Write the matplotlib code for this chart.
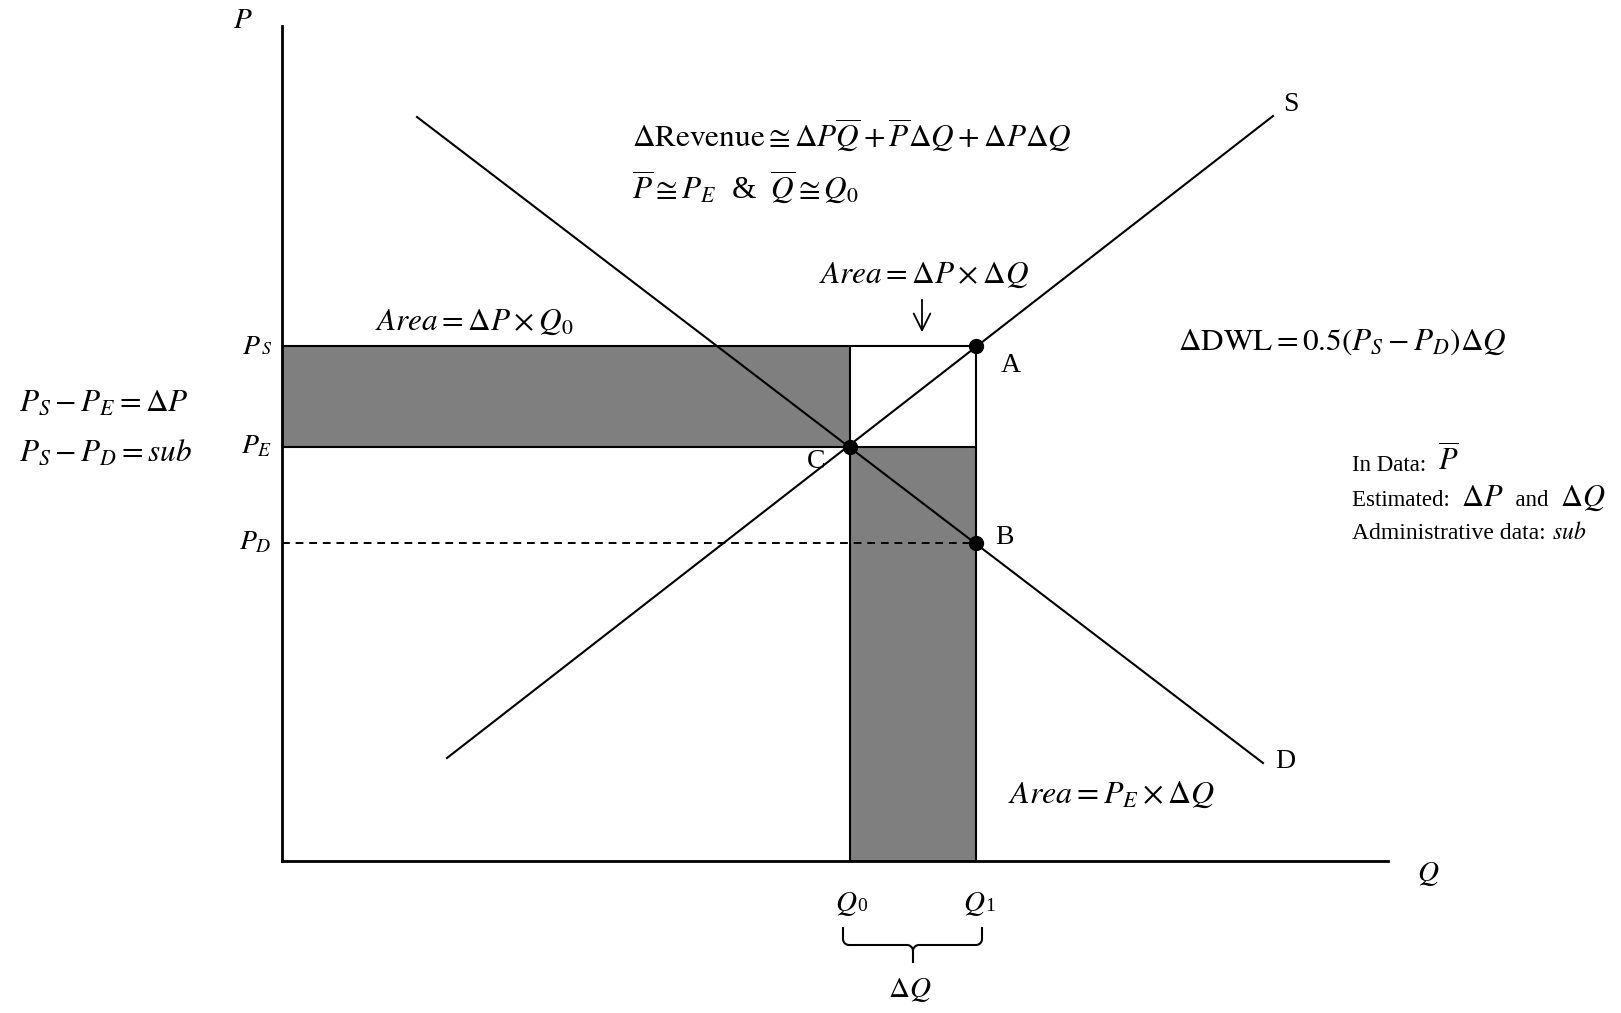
import numpy as np
import matplotlib
matplotlib.use("Agg")
import matplotlib.pyplot as plt

plt.rcParams["mathtext.fontset"] = "stix"
plt.rcParams["font.family"] = ["Liberation Serif", "DejaVu Serif"]

# market values (Q, P units of the diagram)
Q0 = 5.68
Q1 = 6.94
PS = 5.15
PE = 4.14
PD = 3.18
Q_MAX = 11.06
P_MAX = 8.35

supply_q = [1.65, 9.91]
supply_p = [1.03, 7.45]
demand_q = [1.35, 9.81]
demand_p = [7.44, 0.98]

point_names = ["A", "B", "C"]
point_q = [Q1, Q1, Q0]
point_p = [PS, PD, PE]

fig = plt.figure(figsize=(16.21, 10.13), dpi=100)
ax = fig.add_axes([0, 0, 1, 1])
ax.set_xlim(-2.82, 13.39)
ax.set_ylim(-1.52, 8.61)
ax.axis("off")
renderer = fig.canvas.get_renderer()

gray = "#7f7f7f"
# shaded areas
ax.fill_between([0, Q0], PE, PS, color=gray, lw=0, zorder=1)
ax.fill_between([Q0, Q1], 0, PE, color=gray, lw=0, zorder=1)

# rectangle borders
ax.hlines([PS, PE], 0, Q1, color="black", lw=1.5, zorder=2)
ax.vlines([Q0, Q1], 0, PS, color="black", lw=1.5, zorder=2)
ax.hlines(PD, 0, Q1, color="black", lw=1.4, linestyles=(0, (4, 3)), zorder=2)

# supply and demand
ax.plot(supply_q, supply_p, color="black", lw=1.5, zorder=3)
ax.plot(demand_q, demand_p, color="black", lw=1.5, zorder=3)

# axes
ax.plot([0, 0], [0, P_MAX], color="black", lw=2, zorder=4)
ax.plot([0, Q_MAX], [0, 0], color="black", lw=2, zorder=4)

ax.plot(point_q, point_p, "o", color="black", ms=10, zorder=5)

# point / curve labels
lab = dict(fontsize=20, va="center", ha="center")
ax.text(7.29, 4.95, "A", **lab)
ax.text(7.22, 3.23, "B", **lab)
ax.text(5.34, 4.00, "C", **lab)
ax.text(10.09, 7.56, "S", **lab)
ax.text(10.03, 1.00, "D", **lab)

ax.text(-0.39, 8.40, "$P$", fontsize=21, ha="center", va="center")
ax.text(11.46, -0.13, "$Q$", fontsize=21, ha="center", va="center")


def chain(x, y, pieces):
    # write pieces one after another on one baseline
    for s, size in pieces:
        t = ax.text(x, y, s, fontsize=size, ha="left", va="baseline")
        bb = t.get_window_extent(renderer=renderer)
        x = ax.transData.inverted().transform((bb.x1, bb.y0))[0]


chain(-0.40, PS - 0.08, [("$P$", 20), ("$\\mathit{S}$", 13)])
chain(5.53, -0.50, [("$Q$", 21), ("0", 14)])
chain(6.81, -0.50, [("$Q$", 21), ("1", 14)])
ax.text(-0.1, PE, "$P_E$", fontsize=20, ha="right", va="center")
ax.text(-0.1, PD, "$P_D$", fontsize=20, ha="right", va="center")

# equations
ax.text(-2.63, 4.58, r"$P_S - P_E = \Delta P$", fontsize=22.5, ha="left", va="center")
ax.text(-2.63, 4.08, r"$P_S - P_D = sub$", fontsize=22.5, ha="left", va="center")

ax.text(0.93, 5.39, r"$Area = \Delta P \times Q_0$", fontsize=22.5, ha="left", va="center")
ax.text(5.37, 5.86, r"$Area = \Delta P \times \Delta Q$", fontsize=22.5, ha="left", va="center")
ax.annotate("", xy=(6.40, 5.26), xytext=(6.40, 5.64),
            arrowprops=dict(arrowstyle="->", lw=1.3, mutation_scale=30))

ax.text(3.50, 7.26, r"$\Delta\mathrm{Revenue} \cong \Delta P\overline{Q} + \overline{P}\Delta Q + \Delta P\Delta Q$",
        fontsize=22.5, ha="left", va="center")
ax.text(3.50, 6.74, r"$\overline{P} \cong P_E$  &  $\overline{Q} \cong Q_0$",
        fontsize=22.5, ha="left", va="center")

ax.text(8.96, 5.19, r"$\Delta\mathrm{DWL} = 0.5(P_S - P_D)\Delta Q$", fontsize=22.5, ha="left", va="center")

chain(10.70, 3.90, [("In Data:  ", 16.5), (r"$\overline{P}$", 22)])
chain(10.70, 3.55, [("Estimated:  ", 16.5), (r"$\Delta P$", 22), ("  and  ", 16.5), (r"$\Delta Q$", 22)])
chain(10.70, 3.22, [("Administrative data: ", 17), ("$sub$", 17)])

ax.text(7.26, 0.66, r"$Area = P_E \times \Delta Q$", fontsize=23, ha="left", va="center")

# brace under Q0..Q1
left, right = Q0 - 0.07, Q1 + 0.06
mid = (Q0 + Q1) / 2
top, bar, stem = -0.67, -0.84, -1.01
r = 0.06
th = np.linspace(0, np.pi / 2, 12)
xs = [left, left] + list(left + r - r * np.cos(th)) + list(mid - r + r * np.sin(th)) + [mid, mid]
ys = [top, bar + r] + list(bar + r - r * np.sin(th)) + list(bar - r + r * np.cos(th)) + [bar - r, stem]
ax.plot(xs, ys, color="black", lw=1.5)
xs2 = [right, right] + list(right - r + r * np.cos(th)) + list(mid + r - r * np.sin(th))
ys2 = [top, bar + r] + list(bar + r - r * np.sin(th)) + list(bar - r + r * np.cos(th))
ax.plot(xs2, ys2, color="black", lw=1.5)

ax.text(mid - 0.03, -1.29, r"$\Delta Q$", fontsize=21, ha="center", va="center")

plt.savefig("out.png", dpi=100)
